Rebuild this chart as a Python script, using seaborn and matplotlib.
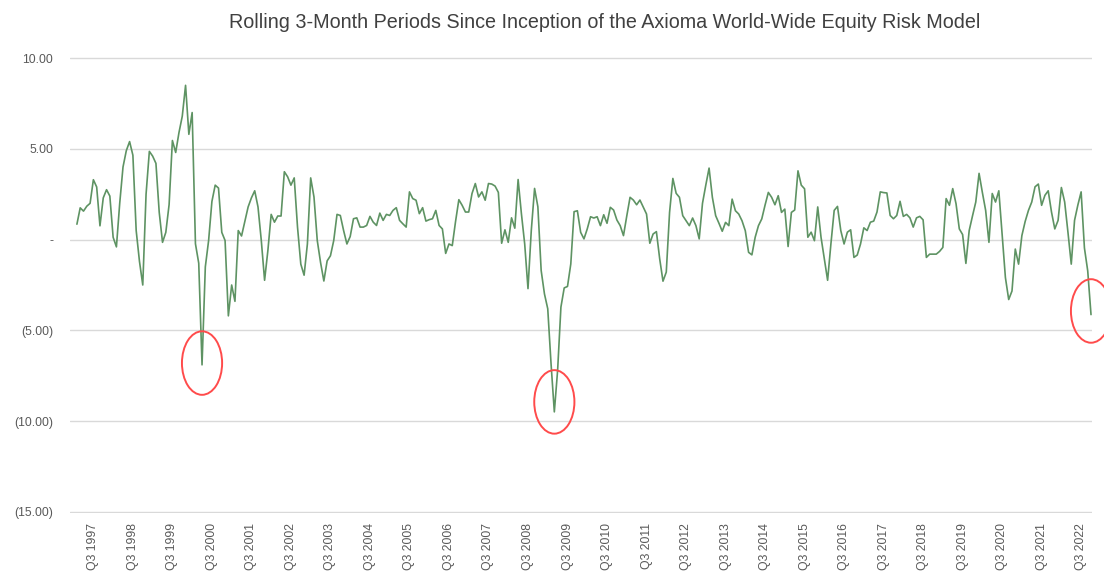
import numpy as np
import pandas as pd
import matplotlib
matplotlib.use("Agg")
import matplotlib.pyplot as plt
from matplotlib.patches import Ellipse
from matplotlib.ticker import FuncFormatter
import seaborn as sns

# ---- data (monthly rolling 3-month values) ----
values = [
    0.85, 1.75, 1.57, 1.84, 2.0, 3.3, 2.9, 0.76, 2.3, 2.75,
    2.4, 0.13, -0.4, 2.0, 4.0, 4.9, 5.4, 4.65, 0.5, -1.2,
    -2.5, 2.5, 4.86, 4.6, 4.2, 1.5, -0.15, 0.4, 1.93, 5.46,
    4.8, 5.9, 6.8, 8.5, 5.8, 7.0, -0.23, -1.3, -6.9, -1.5,
    -0.05, 2.1, 3.0, 2.84, 0.4, -0.05, -4.2, -2.5, -3.4, 0.5,
    0.2, 1.0, 1.8, 2.3, 2.69, 1.8, -0.05, -2.24, -0.6, 1.39,
    0.96, 1.3, 1.3, 3.74, 3.46, 3.0, 3.4, 0.69, -1.35, -1.96,
    -0.24, 3.4, 2.35, -0.05, -1.26, -2.28, -1.17, -0.89, -0.05, 1.39,
    1.33, 0.5, -0.24, 0.17, 1.15, 1.2, 0.69, 0.69, 0.78, 1.28,
    0.96, 0.78, 1.46, 1.06, 1.39, 1.33, 1.61, 1.76, 1.06, 0.87,
    0.69, 2.63, 2.26, 2.17, 1.43, 1.76, 1.02, 1.1, 1.15, 1.61,
    0.78, 0.59, -0.76, -0.24, -0.33, 1.0, 2.2, 1.89, 1.52, 1.52,
    2.54, 3.09, 2.35, 2.63, 2.17, 3.09, 3.06, 2.95, 2.6, -0.2,
    0.54, -0.15, 1.2, 0.63, 3.31, 1.43, -0.24, -2.7, 0.5, 2.82,
    1.81, -1.7, -2.99, -3.81, -6.83, -9.49, -7.2, -3.72, -2.66, -2.58,
    -1.34, 1.54, 1.59, 0.4, 0.04, 0.59, 1.26, 1.19, 1.26, 0.77,
    1.37, 0.9, 1.78, 1.63, 1.08, 0.77, 0.22, 1.3, 2.33, 2.18,
    1.92, 2.18, 1.8, 1.41, -0.2, 0.31, 0.44, -1.06, -2.29, -1.79,
    1.5, 3.37, 2.55, 2.33, 1.32, 1.04, 0.77, 1.19, 0.77, 0.04,
    2.0, 3.0, 3.94, 2.33, 1.32, 0.9, 0.46, 0.95, 0.77, 2.23,
    1.59, 1.41, 1.04, 0.49, -0.7, -0.84, 0.13, 0.77, 1.14, 1.9,
    2.6, 2.33, 1.92, 2.42, 1.5, 1.68, -0.38, 1.5, 1.63, 3.79,
    3.0, 2.8, 0.13, 0.41, -0.06, 1.8, 0.13, -1.07, -2.24, -0.24,
    1.61, 1.83, 0.5, -0.24, 0.41, 0.54, -0.98, -0.85, -0.24, 0.65,
    0.5, 0.96, 1.02, 1.52, 2.63, 2.59, 2.57, 1.33, 1.15, 1.33,
    2.11, 1.28, 1.39, 1.2, 0.69, 1.2, 1.28, 1.09, -0.98, -0.8,
    -0.8, -0.8, -0.65, -0.43, 2.26, 1.89, 2.81, 1.98, 0.59, 0.28,
    -1.31, 0.5, 1.3, 2.07, 3.65, 2.6, 1.61, -0.15, 2.54, 2.07,
    2.69, 0.31, -2.09, -3.3, -2.83, -0.52, -1.35, 0.22, 1.0, 1.61,
    2.07, 2.91, 3.06, 1.89, 2.44, 2.69, 1.52, 0.59, 1.06, 2.87,
    2.07, 0.4, -1.35, 1.06, 1.9, 2.63, -0.46, -1.72, -4.13,
]
tick_labels = [f"Q3 {y}" for y in range(1997, 2023)]
first_label_month = 5          # month index of the first "Q3 1997" label
y_ticks = [10, 5, 0, -5, -10, -15]
title = "Rolling 3-Month Periods Since Inception of the Axioma World-Wide Equity Risk Model"

df = pd.DataFrame({"month": np.arange(len(values)), "value": values})

# ---- style ----
sns.set_style("white")
plt.rcParams["font.family"] = ["Liberation Sans", "DejaVu Sans"]

fig = plt.figure(figsize=(11.04, 5.75), dpi=100)
ax = fig.add_axes([70 / 1104, 1 - 513 / 575, (1092 - 70) / 1104, (513 - 57) / 575])

line_color = "#5e9363"
sns.lineplot(data=df, x="month", y="value", ax=ax, color=line_color, linewidth=1.2)

ax.set_xlim(-2.1, len(values) - 0.7)
ax.set_ylim(-15.06, 10.06)
ax.set_yticks(y_ticks)


def acct(v, pos):
    if abs(v) < 1e-9:
        return "-"
    if v < 0:
        return f"({abs(v):.2f})"
    return f"{v:.2f}"


ax.yaxis.set_major_formatter(FuncFormatter(acct))
ticks = [first_label_month + 12 * i for i in range(len(tick_labels))]
ax.set_xticks(ticks)
ax.set_xticklabels(tick_labels, rotation=90)
ax.tick_params(axis="x", length=0, pad=7, labelsize=8.8, labelcolor="#595959")
ax.tick_params(axis="y", length=0, pad=12, labelsize=8.8, labelcolor="#595959")
ax.set_xlabel("")
ax.set_ylabel("")
ax.grid(axis="y", color="#d9d9d9", linewidth=1.0)
ax.grid(axis="x", visible=False)
for s in ax.spines.values():
    s.set_visible(False)

# ---- red circles around the three drawdowns ----
arr = np.asarray(values)
windows = [(30, 50), (135, 155), (300, len(values))]
offsets = [0.1, 0.55, 0.2]
for (a, b), off in zip(windows, offsets):
    i = a + int(np.argmin(arr[a:b]))
    e = Ellipse((i, arr[i] + off), width=12.2, height=3.5, fill=False,
                edgecolor="#ff4b4b", linewidth=1.4, clip_on=False, zorder=5)
    ax.add_patch(e)

fig.text(605 / 1104, 1 - 22 / 575, title, ha="center", va="center",
         fontsize=14.2, color="#404040")

fig.savefig("out.png", dpi=100)
